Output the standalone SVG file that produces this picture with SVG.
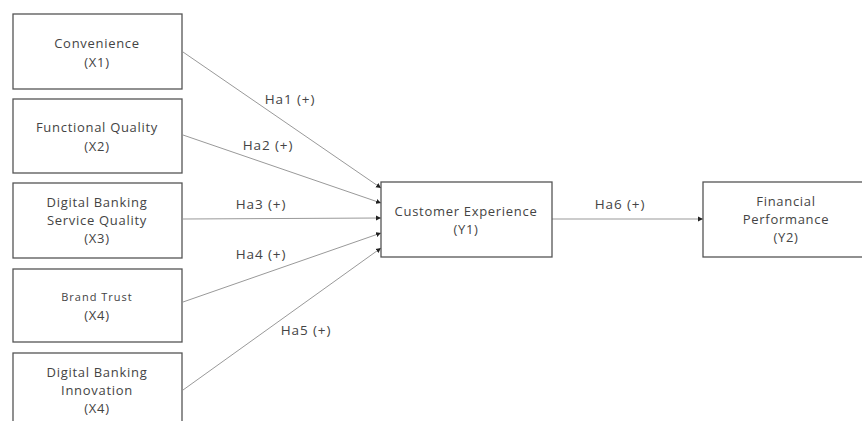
<svg xmlns="http://www.w3.org/2000/svg" width="862" height="421" viewBox="0 0 862 421">
<defs>
<marker id="ah" markerWidth="6" markerHeight="6" refX="5" refY="3" orient="auto" markerUnits="userSpaceOnUse">
<path d="M0,0.5 L5,3 L0,5.5 Z" fill="#222"/>
</marker>
<style>
.box{fill:#fff;stroke:#555;stroke-width:1.3}
.t{font-family:"Open Sans","Liberation Sans",sans-serif;font-size:13px;letter-spacing:0.7px;fill:#444;text-anchor:middle}
.s{font-size:11px;letter-spacing:1px}
.c{stroke:#999;stroke-width:1;fill:none;marker-end:url(#ah)}
.l{font-family:"Open Sans","Liberation Sans",sans-serif;font-size:13.5px;letter-spacing:0.9px;fill:#444;text-anchor:middle}
</style>
</defs>
<rect width="862" height="421" fill="#fff"/>
<g id="connectors">
<line class="c" x1="183" y1="52" x2="381" y2="188"/>
<line class="c" x1="183" y1="135" x2="381" y2="203"/>
<line class="c" x1="183" y1="219" x2="381" y2="218"/>
<line class="c" x1="183" y1="302" x2="381" y2="233"/>
<line class="c" x1="183" y1="390" x2="381" y2="248"/>
<line class="c" x1="552" y1="219" x2="703" y2="219"/>
<text class="l" x="290" y="104">Ha1 (+)</text>
<text class="l" x="268" y="150">Ha2 (+)</text>
<text class="l" x="261" y="209">Ha3 (+)</text>
<text class="l" x="261" y="259">Ha4 (+)</text>
<text class="l" x="306" y="335">Ha5 (+)</text>
<text class="l" x="620" y="209">Ha6 (+)</text>
</g>
<g id="x1"><rect class="box" x="13" y="14" width="169" height="75"/>
<text class="t" x="97" y="48">Convenience</text><text class="t" x="97" y="67">(X1)</text></g>
<g id="x2"><rect class="box" x="13" y="99" width="169" height="74"/>
<text class="t" x="97" y="132">Functional Quality</text><text class="t" x="97" y="151">(X2)</text></g>
<g id="x3"><rect class="box" x="13" y="183" width="169" height="75"/>
<text class="t" x="97" y="207">Digital Banking</text><text class="t" x="97" y="225">Service Quality</text><text class="t" x="97" y="243">(X3)</text></g>
<g id="x4"><rect class="box" x="13" y="269" width="169" height="73"/>
<text class="t s" x="97" y="301">Brand Trust</text><text class="t" x="97" y="320">(X4)</text></g>
<g id="x5"><rect class="box" x="13" y="353" width="169" height="80"/>
<text class="t" x="97" y="377">Digital Banking</text><text class="t" x="97" y="395">Innovation</text><text class="t" x="97" y="413">(X4)</text></g>
<g id="y1"><rect class="box" x="381" y="182" width="171" height="75"/>
<text class="t" x="466" y="216">Customer Experience</text><text class="t" x="466" y="234">(Y1)</text></g>
<g id="y2"><rect class="box" x="703" y="182" width="170" height="75"/>
<text class="t" x="786" y="206">Financial</text><text class="t" x="786" y="224">Performance</text><text class="t" x="786" y="242">(Y2)</text></g>
</svg>
